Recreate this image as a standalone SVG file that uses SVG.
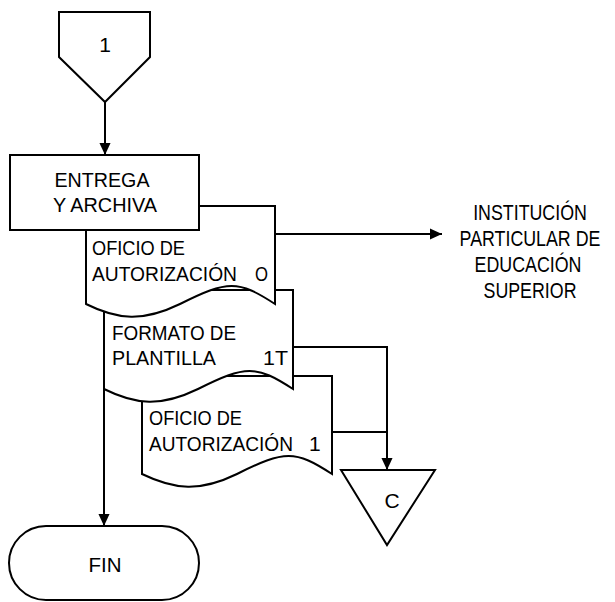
<svg xmlns="http://www.w3.org/2000/svg" width="615" height="602" viewBox="0 0 615 602">
  <defs>
    <marker id="arrow" markerWidth="12" markerHeight="13" refX="13" refY="6" orient="auto" markerUnits="userSpaceOnUse" viewBox="0 0 13 12">
      <path d="M0,0 L13,6 L0,12 Z" fill="#000"/>
    </marker>
    <style>
      .shape { fill: #fff; stroke: #000; stroke-width: 2; stroke-linejoin: miter; }
      .edge { fill: none; stroke: #000; stroke-width: 2; }
      .lbl { font-family: "Liberation Sans Narrow", "Liberation Sans", Arial, sans-serif; font-size: 21px; fill: #000; }
      .mid { text-anchor: middle; }
      .big { font-size: 22px; }
    </style>
  </defs>

  <rect width="615" height="602" fill="#fff"/>

  <!-- connectors -->
  <g id="connectors">
    <line class="edge" x1="105" y1="102" x2="105" y2="155" marker-end="url(#arrow)"/>
    <polyline class="edge" points="199,206 275,206 275,234 442,234" marker-end="url(#arrow)"/>
    <polyline class="edge" points="293,347 387,347 387,470" marker-end="url(#arrow)"/>
    <line class="edge" x1="332" y1="432" x2="387" y2="432"/>
    <line class="edge" x1="104" y1="388" x2="104" y2="526" marker-end="url(#arrow)"/>
  </g>

  <!-- off-page connector 1 -->
  <g id="node-start">
    <polygon class="shape" points="59,12 150,12 150,57 105,102 59,57"/>
    <text class="lbl mid" x="105" y="52">1</text>
  </g>

  <!-- document: oficio de autorización 1 -->
  <g id="node-doc3">
    <path class="shape" d="M142,376 H332 V474 C295,450 285,450 237,474 C200,492 175,490 142,474 Z"/>
    <text class="lbl" x="149" y="425" textLength="93" lengthAdjust="spacingAndGlyphs">OFICIO DE</text>
    <text class="lbl" x="149" y="451" textLength="144" lengthAdjust="spacingAndGlyphs">AUTORIZACIÓN</text>
    <text class="lbl" x="309" y="451">1</text>
  </g>

  <!-- document: formato de plantilla 1T -->
  <g id="node-doc2">
    <path class="shape" d="M104,290 H293 V389 C256,365 246,365 198,389 C161,407 136,405 104,389 Z"/>
    <text class="lbl" x="112" y="340" textLength="124" lengthAdjust="spacingAndGlyphs">FORMATO DE</text>
    <text class="lbl" x="112" y="365" textLength="104" lengthAdjust="spacingAndGlyphs">PLANTILLA</text>
    <text class="lbl" x="263" y="365" textLength="25" lengthAdjust="spacingAndGlyphs">1T</text>
  </g>

  <!-- document: oficio de autorización O -->
  <g id="node-doc1">
    <path class="shape" d="M86,206 H275 V304 C238,280 228,280 180,304 C143,322 118,320 86,304 Z"/>
    <text class="lbl" x="92" y="255" textLength="93" lengthAdjust="spacingAndGlyphs">OFICIO DE</text>
    <text class="lbl" x="92" y="281" textLength="145" lengthAdjust="spacingAndGlyphs">AUTORIZACIÓN</text>
    <text class="lbl" x="255" y="281" textLength="13" lengthAdjust="spacingAndGlyphs">O</text>
  </g>

  <!-- process -->
  <g id="node-entrega">
    <rect class="shape" x="10" y="155" width="189" height="75"/>
    <text class="lbl mid" x="102" y="187" textLength="95" lengthAdjust="spacingAndGlyphs">ENTREGA</text>
    <text class="lbl mid" x="105" y="212" textLength="104" lengthAdjust="spacingAndGlyphs">Y ARCHIVA</text>
  </g>

  <!-- external recipient (condensed lettering) -->
  <g id="node-institucion">
    <text class="lbl big mid" transform="translate(530,220) scale(0.81,1)">INSTITUCIÓN</text>
    <text class="lbl big mid" transform="translate(530,246) scale(0.81,1)">PARTICULAR DE</text>
    <text class="lbl big mid" transform="translate(528,272) scale(0.81,1)">EDUCACIÓN</text>
    <text class="lbl big mid" transform="translate(530,298) scale(0.81,1)">SUPERIOR</text>
  </g>

  <!-- archive -->
  <g id="node-archivo">
    <polygon class="shape" points="341,470 435,470 387,545"/>
    <text class="lbl mid" x="392" y="508">C</text>
  </g>

  <!-- terminator -->
  <g id="node-fin">
    <rect class="shape" x="9" y="526" width="190" height="74" rx="37" ry="37"/>
    <text class="lbl mid" x="105" y="572" textLength="33" lengthAdjust="spacingAndGlyphs">FIN</text>
  </g>
</svg>
